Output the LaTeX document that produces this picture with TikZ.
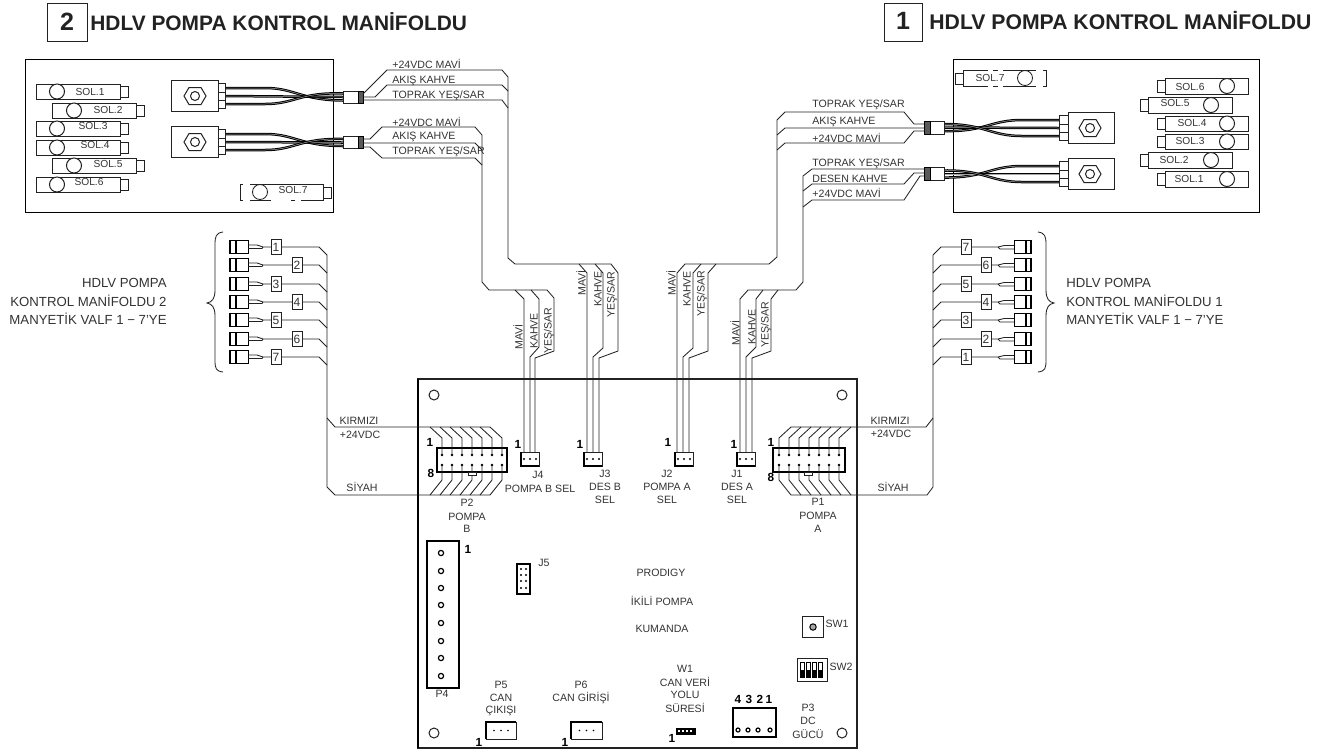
\documentclass[tikz,border=0pt]{standalone}
\usepackage{fontspec}
\setmainfont{Liberation Sans}
\definecolor{ink}{HTML}{222222}
\definecolor{txt}{HTML}{333333}
\tikzset{
  wire/.style={draw=ink,line width=.42pt,line join=miter},
  thin box/.style={draw=ink,line width=.5pt,fill=white},
  heavy box/.style={draw=black,line width=.85pt,fill=white},
  lab/.style={font=\fontsize{5.3}{6}\selectfont,text=txt,inner sep=0pt},
  tagnum/.style={font=\fontsize{6}{7}\selectfont,text=txt,inner sep=0pt},
  solab/.style={font=\fontsize{5.1}{6}\selectfont,text=txt,inner sep=0pt},
  side/.style={font=\fontsize{6.6}{7}\selectfont,text=txt,inner sep=0pt},
  pinone/.style={font=\bfseries\fontsize{5.9}{6}\selectfont,text=black,inner sep=0pt},
  headl/.style={font=\bfseries\fontsize{10.45}{11}\selectfont,text=ink,inner sep=0pt,anchor=west},
  headr/.style={font=\bfseries\fontsize{10.6}{11}\selectfont,text=ink,inner sep=0pt,anchor=west},
  headnum/.style={font=\bfseries\fontsize{12.5}{13}\selectfont,text=ink,inner sep=0pt},
  twist/.style={draw=black,line width=.5pt,double=white!65!black,double distance=.25pt},
  pindot/.style={fill=black,draw=none},
}
\newcommand\bx[6][thin box]{%
  \pgfmathsetlengthmacro\bxw{(#5-#3)*0.5pt}%
  \pgfmathsetlengthmacro\bxh{(#6-#4)*0.5pt}%
  \node[#1,rectangle,inner sep=0pt,outer sep=0pt,minimum width=\bxw,minimum height=\bxh,anchor=north west] (#2) at (#3,#4) {};}
\newcommand\lab[5][lab]{\node[#1] (#2) at (#3,#4) {#5};}
% solenoid with tail on the right
\newcommand\solR[6]{% name, x1, x2, y1, y2, circle x
  \bx{#1}{#2}{#4}{#3}{#5}
  \pgfmathsetmacro\tx{#3+8}\pgfmathsetmacro\ta{#4+2}\pgfmathsetmacro\tb{#5-2}
  \bx{#1t}{#3}{\ta}{\tx}{\tb}
  \pgfmathsetmacro\cy{(#4+#5)/2}
  \draw[thin box] (#6,\cy) circle[radius=7.5];}
% solenoid with tail on the left
\newcommand\solL[6]{%
  \bx{#1}{#2}{#4}{#3}{#5}
  \pgfmathsetmacro\tx{#2-8}\pgfmathsetmacro\ta{#4+2}\pgfmathsetmacro\tb{#5-2}
  \bx{#1t}{\tx}{\ta}{#2}{\tb}
  \pgfmathsetmacro\cy{(#4+#5)/2}
  \draw[thin box] (#6,\cy) circle[radius=7.5];}
\newcommand\nut[2]{%
  \draw[thin box] (#1-11,#2) -- (#1-6,#2-8.5) -- (#1+6,#2-8.5) -- (#1+11,#2) -- (#1+6,#2+8.5) -- (#1-6,#2+8.5) -- cycle;
  \draw[thin box] (#1,#2) circle[radius=4.5];}
\begin{document}
\begin{tikzpicture}[x=0.5pt,y=-0.5pt]
\useasboundingbox (0,0) rectangle (1320,751);
\fill[white] (0,0) rectangle (1320,751);

% ---------- headers
\bx{hb2}{47}{3}{87}{41}
\lab[headnum]{hn2}{67}{22}{2}
\lab[headl]{ht2}{90}{22}{HDLV POMPA KONTROL MANİFOLDU}
\bx{hb1}{884}{3}{922}{41}
\lab[headnum]{hn1}{903}{21}{1}
\lab[headr]{ht1}{929}{21}{HDLV POMPA KONTROL MANİFOLDU}

% ---------- board
\bx[draw=ink,line width=.55pt,fill=none]{board}{418}{379}{857}{748}
\draw[black,line width=.95pt] (board.north west) -- (board.south west);

% ---------- manifolds
\bx[draw=black,line width=.5pt,fill=white]{m2}{25}{59}{333}{212}
\bx[draw=black,line width=.5pt,fill=white]{m1}{953}{59}{1259}{212}

% ---------- left solenoids
\solR{sa1}{36}{120}{84}{99}{57}    \lab[solab]{sal1}{90}{92}{SOL.1}
\solR{sa2}{52}{136}{103}{118}{74}  \lab[solab]{sal2}{108}{110}{SOL.2}
\solR{sa3}{36}{120}{121}{136}{57}  \lab[solab]{sal3}{93}{126}{SOL.3}
\solR{sa4}{36}{120}{140}{155}{57}  \lab[solab]{sal4}{95}{145}{SOL.4}
\solR{sa5}{52}{136}{158}{173}{74}  \lab[solab]{sal5}{108}{164}{SOL.5}
\solR{sa6}{36}{120}{177}{192}{57}  \lab[solab]{sal6}{89}{182}{SOL.6}
% dashed SOL.7 left
\draw[wire] (243,184) -- (240,184) -- (240,200) -- (243,200);
\draw[wire] (250,184) -- (323,184) -- (323,200) -- (301,200) (295,200) -- (291,200) (271,200) -- (250,200);
\draw[wire] (260,192) circle[radius=7.5];
\bx{sa7t}{323}{187}{331}{198}
\lab[solab]{sal7}{293}{190}{SOL.7}

% ---------- right solenoids
\solL{sb6}{1165}{1248}{78}{94}{1227}   \lab[solab]{sbl6}{1190}{87}{SOL.6}
\solL{sb5}{1148}{1232}{97}{113}{1211}  \lab[solab]{sbl5}{1175}{103}{SOL.5}
\solL{sb4}{1165}{1248}{116}{131}{1227} \lab[solab]{sbl4}{1192}{123}{SOL.4}
\solL{sb3}{1165}{1248}{134}{149}{1227} \lab[solab]{sbl3}{1190}{141}{SOL.3}
\solL{sb2}{1148}{1232}{152}{168}{1211} \lab[solab]{sbl2}{1174}{160}{SOL.2}
\solL{sb1}{1165}{1248}{171}{187}{1227} \lab[solab]{sbl1}{1189}{179}{SOL.1}
% dashed SOL.7 right
\draw[wire] (1043,70) -- (1046,70) -- (1046,86) -- (1043,86);
\draw[wire] (963,70) -- (988,70) (993,70) -- (998,70) (1003,70) -- (1036,70);
\draw[wire] (963,86) -- (988,86) (993,86) -- (998,86) (1003,86) -- (1036,86);
\draw[wire] (963,70) -- (963,86);
\draw[wire] (1025,78) circle[radius=7.5];
\bx{sb7t}{955}{73}{963}{84}
\lab[solab]{sbl7}{990}{78}{SOL.7}

% ---------- valve coils, left manifold
\foreach \nm/\cy/\my in {a/96/97,b/142/142.5}{
  \begin{scope}[shift={(0,\cy)}]
  \draw[twist] (225,-8) -- (265,-8) .. controls (295,-8) and (300,4) .. (343,\my-\cy+3.5);
  \draw[twist] (225,0) -- (343,\my-\cy);
  \draw[twist] (225,8) -- (265,8) .. controls (295,8) and (300,-4) .. (343,\my-\cy-3.5);
  \end{scope}
  \pgfmathsetmacro\ya{\cy-15.5}\pgfmathsetmacro\yb{\cy+15.5}
  \pgfmathsetmacro\tu{\cy-12.5}\pgfmathsetmacro\tv{\cy+12.5}
  \bx{va\nm}{171}{\ya}{218}{\yb}
  \bx{vat\nm}{218}{\tu}{225}{\tv}
  \draw[thin box] (218,\cy-4) -- (225,\cy-4) (218,\cy+4) -- (225,\cy+4);
  \nut{195}{\cy}
  \pgfmathsetmacro\ca{\my-6}\pgfmathsetmacro\cb{\my+6}
  \bx{vc\nm}{343}{\ca}{358}{\cb}
  \bx[draw=black,line width=.5pt,fill=black!65]{vd\nm}{358}{\ca}{363}{\cb}
}

% ---------- valve coils, right manifold
\foreach \nm/\cy/\my in {c/128/127.5,d/174/174}{
  \begin{scope}[shift={(0,\cy)}]
  \draw[twist] (1059,-8) -- (1022,-8) .. controls (990,-8) and (985,4) .. (944,\my-\cy+3.5);
  \draw[twist] (1059,0) -- (944,\my-\cy);
  \draw[twist] (1059,8) -- (1022,8) .. controls (990,8) and (985,-4) .. (944,\my-\cy-3.5);
  \end{scope}
  \pgfmathsetmacro\ya{\cy-15.5}\pgfmathsetmacro\yb{\cy+15.5}
  \pgfmathsetmacro\tu{\cy-12.5}\pgfmathsetmacro\tv{\cy+12.5}
  \bx{va\nm}{1068}{\ya}{1114}{\yb}
  \bx{vat\nm}{1059}{\tu}{1068}{\tv}
  \draw[thin box] (1059,\cy-4) -- (1068,\cy-4) (1059,\cy+4) -- (1068,\cy+4);
  \nut{1090}{\cy}
  \pgfmathsetmacro\ca{\my-6.5}\pgfmathsetmacro\cb{\my+6.5}
  \bx{vc\nm}{930}{\ca}{944}{\cb}
  \bx[draw=black,line width=.5pt,fill=black!65]{vd\nm}{924}{\ca}{930}{\cb}
}

% ---------- J connectors
\bx{j4}{521}{452}{539}{466}
\bx{j3}{584}{452}{602}{466}
\bx{j2}{675}{452}{693}{466}
\bx{j1}{737}{452}{755}{466}
\foreach \c in {j4,j3,j2,j1}{
  \draw[black,line width=.9pt] (\c.north west) -- (\c.south west) -- (\c.south east);
  \foreach \d in {-6,0,6}
    \fill[pindot] ([yshift=-3.5pt]\c.north) ++(\d,0) circle[radius=1.2];
}

% ---------- wires to J3 (left manifold, upper valve)
\coordinate (ja) at (587,452); \coordinate (jb) at (593,452); \coordinate (jc) at (599,452);
\draw[wire] (vda.east |- 0,94) -- (387,70) -- (502,70) -- (508,77) -- (508,258) -- (515,264) -- (579,264) -- (587,273) -- (ja);
\draw[wire] (vda.east |- 0,97) -- (375,97) -- (387,85) -- (502,85) -- (508,91);
\draw[wire] (vda.east |- 0,100) -- (502,100) -- (508,108);
\draw[wire] (579,264) -- (595,264) -- (603,273) -- (603,348) -- (593,357) -- (jb);
\draw[wire] (595,264) -- (611,264) -- (618,273) -- (618,351) -- (599,358) -- (jc);
% wires to J4 (left manifold, lower valve)
\coordinate (ka) at (524,452); \coordinate (kb) at (530,452); \coordinate (kc) at (535,452);
\draw[wire] (vdb.east |- 0,139) -- (370,139) -- (382,127) -- (475,127) -- (482,135) -- (482,282) -- (489,290) -- (515,290) -- (524,299) -- (ka);
\draw[wire] (vdb.east |- 0,143) -- (475,143) -- (482,150);
\draw[wire] (vdb.east |- 0,147) -- (370,147) -- (382,158) -- (475,158) -- (482,165);
\draw[wire] (515,290) -- (531,290) -- (539,299) -- (539,347) -- (530,357) -- (kb);
\draw[wire] (531,290) -- (547,290) -- (554,298) -- (554,351) -- (535,358) -- (kc);
% wires to J2 (right manifold, upper valve)
\coordinate (ma) at (677,452); \coordinate (mb) at (683,452); \coordinate (mc) at (689,452);
\draw[wire] (vdc.west |- 0,124) -- (914,124) -- (904,112) -- (785,112) -- (777,120) -- (777,257) -- (769,264) -- (685,264) -- (677,273) -- (ma);
\draw[wire] (vdc.west |- 0,128) -- (785,128) -- (777,135);
\draw[wire] (vdc.west |- 0,131) -- (914,131) -- (904,143) -- (785,143) -- (777,150);
\draw[wire] (701,264) -- (693,273) -- (693,348) -- (683,357) -- (mb);
\draw[wire] (716,264) -- (708,273) -- (708,351) -- (689,358) -- (mc);
% wires to J1 (right manifold, lower valve)
\coordinate (na) at (740,452); \coordinate (nb) at (746,452); \coordinate (nc) at (752,452);
\draw[wire] (vdd.west |- 0,169) -- (812,169) -- (803,176) -- (803,282) -- (796,290) -- (748,290) -- (740,299) -- (na);
\draw[wire] (vdd.west |- 0,173) -- (914,173) -- (904,184) -- (812,184) -- (803,191);
\draw[wire] (vdd.west |- 0,176) -- (920,176) -- (904,200) -- (812,200) -- (803,207);
\draw[wire] (763,290) -- (756,299) -- (756,347) -- (746,357) -- (nb);
\draw[wire] (778,290) -- (771,299) -- (771,351) -- (752,358) -- (nc);

% ---------- wire labels, top
\lab[lab,anchor=west]{l1}{392}{64}{+24VDC MAVİ}
\lab[lab,anchor=west]{l2}{392}{81}{AKIŞ KAHVE}
\lab[lab,anchor=west]{l3}{392}{96}{TOPRAK YEŞ/SAR}
\lab[lab,anchor=west]{l4}{392}{122}{+24VDC MAVİ}
\lab[lab,anchor=west]{l5}{392}{137}{AKIŞ KAHVE}
\lab[lab,anchor=west]{l6}{392}{152}{TOPRAK YEŞ/SAR}
\lab[lab,anchor=west]{r1}{812}{105}{TOPRAK YEŞ/SAR}
\lab[lab,anchor=west]{r2}{812}{122}{AKIŞ KAHVE}
\lab[lab,anchor=west]{r3}{812}{138}{+24VDC MAVİ}
\lab[lab,anchor=west]{r4}{812}{164}{TOPRAK YEŞ/SAR}
\lab[lab,anchor=west]{r5}{812}{179}{DESEN KAHVE}
\lab[lab,anchor=west]{r6}{812}{193}{+24VDC MAVİ}

% ---------- vertical labels
\lab[lab,rotate=90]{v1}{518}{337}{MAVİ}
\lab[lab,rotate=90]{v2}{534}{331}{KAHVE}
\lab[lab,rotate=90]{v3}{549}{331}{YEŞ/SAR}
\lab[lab,rotate=90]{v4}{581}{283}{MAVİ}
\lab[lab,rotate=90]{v5}{598}{289}{KAHVE}
\lab[lab,rotate=90]{v6}{612}{295}{YEŞ/SAR}
\lab[lab,rotate=90]{v7}{671}{283}{MAVİ}
\lab[lab,rotate=90]{v8}{687}{289}{KAHVE}
\lab[lab,rotate=90]{v9}{702}{294}{YEŞ/SAR}
\lab[lab,rotate=90]{v10}{735}{333}{MAVİ}
\lab[lab,rotate=90]{v11}{752}{327}{KAHVE}
\lab[lab,rotate=90]{v12}{766}{325}{YEŞ/SAR}

% ---------- P2 / P1 headers
\bx[draw=black,line width=.65pt,fill=none]{p2}{437}{448}{507}{472}
\bx[draw=black,line width=.65pt,fill=none]{p1}{773}{448}{845}{472}
\foreach \i in {0,...,6}{
  \pgfmathsetmacro\xa{442+10*\i}
  \draw[wire] (\xa,455) -- (\xa,438) -- (\xa-12,427);
  \draw[wire] (\xa,465) -- (\xa,480) -- (\xa-12,495);
  \fill[pindot] (\xa,455) circle[radius=1.4] (\xa,465) circle[radius=1.4];
  \pgfmathsetmacro\xb{779+10*\i}
  \draw[wire] (\xb,455) -- (\xb,438) -- (\xb+12,427);
  \draw[wire] (\xb,465) -- (\xb,480) -- (\xb+12,495);
  \fill[pindot] (\xb,455) circle[radius=1.4] (\xb,465) circle[radius=1.4];
}
\bx{p2k}{468}{472}{476}{475}
\bx{p1k}{804}{472}{812}{475}

% ---------- trunks
\coordinate (tl1) at (430,427); \coordinate (tl2) at (430,495);
\coordinate (tr1) at (791,427); \coordinate (tr2) at (791,495);
\draw[wire] (490,427) -- (tl1) -- (335,427) -- (327,418) -- (327,255);
\draw[wire] (490,495) -- (tl2) -- (335,495) -- (327,487) -- (327,418);
\draw[wire] (849,427) -- (tr1) -- (926,427) -- (933,418) -- (933,255);
\draw[wire] (851,495) -- (tr2) -- (927,495) -- (933,487) -- (933,418);

% ---------- left plug row
\foreach \n/\y/\tx in {1/247/271,2/265/292,3/284/271,4/302/292,5/320/271,6/339/292,7/357/271}{
  \pgfmathsetmacro\ya{\y-6.5}\pgfmathsetmacro\yb{\y+6.5}
  \pgfmathsetmacro\tu{\y-7.5}\pgfmathsetmacro\tv{\y+7.5}
  \pgfmathsetmacro\txr{\tx+10}
  \bx[draw=black,line width=.5pt,fill=white]{pl\n}{236}{\ya}{248}{\yb}
  \bx[draw=black,line width=.7pt,fill=white]{pm\n}{230}{\ya}{236}{\yb}
  \bx{tg\n}{\tx}{\tu}{\txr}{\tv}
  \node[tagnum] (tn\n) at (\tx+5,\y) {\n};
  \draw[wire] (248,\y-2) -- (257,\y-2) -- (263,\y) -- (tg\n.west);
  \draw[wire] (248,\y+1.5) -- (262,\y+1.5) -- (263,\y);
  \draw[wire] (tg\n.east) -- (319,\y) -- (327,\y+8);
}
% ---------- right plug row
\foreach \n/\y/\tx in {7/247/961,6/265/981,5/284/961,4/302/981,3/320/961,2/339/981,1/357/961}{
  \pgfmathsetmacro\ya{\y-6.5}\pgfmathsetmacro\yb{\y+6.5}
  \pgfmathsetmacro\tu{\y-7.5}\pgfmathsetmacro\tv{\y+7.5}
  \pgfmathsetmacro\txr{\tx+10}
  \bx[draw=black,line width=.5pt,fill=white]{ql\n}{1014}{\ya}{1026}{\yb}
  \bx[draw=black,line width=.7pt,fill=white]{qm\n}{1026}{\ya}{1031}{\yb}
  \bx{ug\n}{\tx}{\tu}{\txr}{\tv}
  \node[tagnum] (un\n) at (\tx+5,\y) {\n};
  \draw[wire] (1014,\y-1.5) -- (1004,\y-1.5) -- (998,\y) -- (ug\n.east);
  \draw[wire] (1014,\y+2) -- (1000,\y+2) -- (998,\y);
  \draw[wire] (ug\n.west) -- (941,\y) -- (933,\y+8);
}

% ---------- braces
\draw[wire] (223,232) .. controls (216,233) and (215,236) .. (215,245) -- (215,290)
  .. controls (215,299) and (212,302) .. (207,303) .. controls (212,304) and (215,307) .. (215,316)
  -- (215,360) .. controls (215,369) and (216,371) .. (223,372);
\draw[wire] (1038,232) .. controls (1045,233) and (1046,236) .. (1046,245) -- (1046,290)
  .. controls (1046,299) and (1049,302) .. (1054,303) .. controls (1049,304) and (1046,307) .. (1046,316)
  -- (1046,360) .. controls (1046,369) and (1045,371) .. (1038,372);
\node[side,anchor=east] (s1) at (167,283) {HDLV POMPA};
\node[side,anchor=east] (s2) at (167,301) {KONTROL MANİFOLDU 2};
\node[side,anchor=east] (s3) at (167,319) {MANYETİK VALF 1 − 7'YE};
\node[side,anchor=west] (s4) at (1066,283) {HDLV POMPA};
\node[side,anchor=west] (s5) at (1066,301) {KONTROL MANİFOLDU 1};
\node[side,anchor=west] (s6) at (1066,319) {MANYETİK VALF 1 − 7'YE};

% ---------- board labels
\lab{a1}{359}{421}{KIRMIZI} \lab{a2}{360}{435}{+24VDC} \lab{a3}{362}{487}{SİYAH}
\lab{b1}{890}{421}{KIRMIZI} \lab{b2}{891}{434}{+24VDC} \lab{b3}{893}{487}{SİYAH}
\lab[pinone]{o1}{430}{442}{1} \lab[pinone]{o2}{431}{473}{8}
\lab[pinone]{o3}{771}{442}{1} \lab[pinone]{o4}{771}{477}{8}
\lab[pinone]{o5}{518}{444}{1} \lab[pinone]{o6}{580}{444}{1}
\lab[pinone]{o7}{668}{442}{1} \lab[pinone]{o8}{734}{444}{1}
\lab{c1}{538}{475}{J4} \lab{c2}{540}{489}{POMPA B SEL}
\lab{c3}{605}{474}{J3} \lab{c4}{605}{487}{DES B} \lab{c5}{605}{500}{SEL}
\lab{c6}{667}{474}{J2} \lab{c7}{667}{487}{POMPA A} \lab{c8}{667}{500}{SEL}
\lab{c9}{737}{474}{J1} \lab{c10}{737}{487}{DES A} \lab{c11}{737}{500}{SEL}
\lab{d1}{467}{503}{P2} \lab{d2}{467}{517}{POMPA} \lab{d3}{467}{529}{B}
\lab{d4}{818}{502}{P1} \lab{d5}{818}{516}{POMPA} \lab{d6}{818}{529}{A}

% ---------- board holes
\foreach \n/\x/\y in {1/434/395,2/842/395,3/434/733,4/842/733}
  \draw[thin box] (\x,\y) circle[radius=5];

% ---------- P4
\bx[heavy box]{p4}{427}{541}{459}{688}
\foreach \y in {553,571,588,605,623,641,658,676}
  \draw[draw=black,line width=.6pt,fill=white] (441,\y) circle[radius=2.6];
\lab[pinone]{e1}{468}{549}{1}
\lab{e2}{442}{694}{P4}

% ---------- J5
\bx[draw=black,line width=.7pt,fill=white]{j5}{517}{564}{530}{594}
\foreach \y in {569,575,581,588}{
  \fill[pindot] (521,\y) circle[radius=1.2] (526,\y) circle[radius=1.2];
}
\lab{e3}{544}{563}{J5}

\lab{f1}{661}{573}{PRODIGY} \lab{f2}{662}{601}{İKİLİ POMPA} \lab{f3}{662}{629}{KUMANDA}

% ---------- switches
\bx{sw1}{802}{616}{823}{637}
\draw[draw=black,line width=.5pt,fill=black!35] (813,627) circle[radius=3.2];
\lab{g1}{837}{624}{SW1}
\bx{sw2}{797}{658}{827}{681}
\foreach \x in {800,806,812,818}{
  \draw[draw=black,line width=.45pt,fill=white] (\x,662) rectangle (\x+4.4,677);
  \fill[black] (\x,670) rectangle (\x+4.4,677);
}
\lab{g2}{841}{667}{SW2}

% ---------- P5, P6, W1, P3
\lab{h1}{501}{685}{P5} \lab{h2}{501}{698}{CAN} \lab{h3}{501}{711}{ÇIKIŞI}
\bx{p5}{486}{722}{516}{739}
\lab{h4}{581}{685}{P6} \lab{h5}{581}{698}{CAN GİRİŞİ}
\bx{p6}{571}{722}{602}{739}
\foreach \c in {p5,p6}{
  \draw[black,line width=.85pt] (\c.south west) -- (\c.north west) -- (\c.north east);
  \foreach \d in {-7,0,7}
    \fill[pindot] (\c.center) ++(\d,0) circle[radius=.9];
}
\lab[pinone]{h6}{479}{742}{1} \lab[pinone]{h7}{565}{742}{1}
\lab{i1}{685}{669}{W1} \lab{i2}{685}{682}{CAN VERİ} \lab{i3}{685}{695}{YOLU} \lab{i4}{685}{708}{SÜRESİ}
\bx[draw=black,fill=black,line width=.3pt]{w1}{676}{728}{695}{734}
\foreach \x in {679,683,687,691}
  \fill[white] (\x-.8,730) rectangle (\x+.8,732);
\lab[pinone]{i5}{672}{738}{1}
\bx[heavy box]{p3}{733}{708}{776}{737}
\foreach \x in {738,748,758,770}
  \draw[draw=black,line width=.6pt,fill=white] (\x,730) circle[radius=2];
\lab[pinone]{k4}{738}{699}{4} \lab[pinone]{k3}{749}{699}{3}
\lab[pinone]{k2}{760}{699}{2} \lab[pinone]{k1}{769}{699}{1}
\lab{m1t}{808}{708}{P3} \lab{m2t}{808}{721}{DC} \lab{m3t}{808}{734}{GÜCÜ}
\end{tikzpicture}
\end{document}
